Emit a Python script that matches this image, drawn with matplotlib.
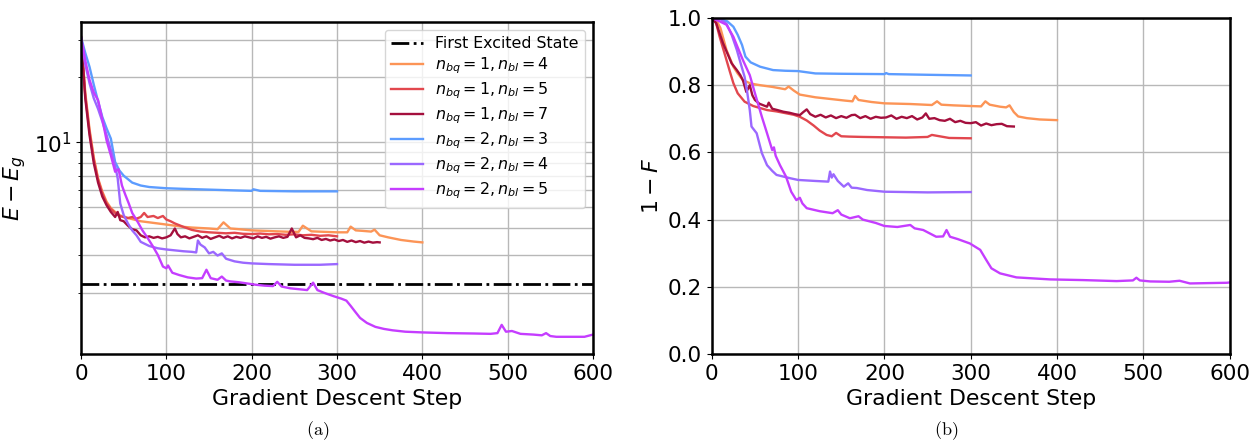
import numpy as np
import matplotlib
matplotlib.use('Agg')
import matplotlib.pyplot as plt

# ---- data ---------------------------------------------------------------
labels = [r'$n_{bq}=1, n_{bl}=4$', r'$n_{bq}=1, n_{bl}=5$', r'$n_{bq}=1, n_{bl}=7$',
          r'$n_{bq}=2, n_{bl}=3$', r'$n_{bq}=2, n_{bl}=4$', r'$n_{bq}=2, n_{bl}=5$']
colors = ['#fc9456', '#e2474e', '#a40f3d', '#5c9cff', '#9b68ff', '#c53dff']

excited_energy = 2.19

# (a) E - E_g
e_steps_14 = [0, 5, 10, 15, 20, 25, 30, 35, 40, 45, 50, 60, 70, 80, 90, 100, 110, 120, 130, 140,
              150, 160, 167, 175, 185, 200, 215, 230, 245, 255, 260, 270, 285, 300, 312, 316, 322, 330, 340, 344,
              350, 360, 375, 390, 400]
e_vals_14 = [30.8, 17.0, 11.5, 8.5, 6.8, 5.9, 5.3, 4.95, 4.75, 4.6, 4.5, 4.4, 4.3, 4.25, 4.2, 4.15, 4.1, 4.05, 4.02, 4.0,
             3.98, 3.95, 4.25, 3.98, 3.95, 3.9, 3.88, 3.86, 3.84, 3.84, 4.1, 3.86, 3.84, 3.82, 3.82, 4.06, 3.9, 3.88, 3.85, 3.93,
             3.7, 3.62, 3.52, 3.46, 3.43]

e_steps_15 = [0, 5, 10, 15, 20, 25, 30, 35, 40, 45, 50, 55, 60, 65, 70, 74, 78, 85, 90, 96,
              100, 105, 110, 120, 130, 140, 150, 160, 170, 180, 190, 200, 210, 220, 230, 240, 250, 260, 270, 280,
              290, 300]
e_vals_15 = [30.8, 16.5, 11.2, 8.3, 6.7, 5.8, 5.2, 4.9, 4.7, 4.55, 4.5, 4.45, 4.5, 4.42, 4.5, 4.7, 4.5, 4.55, 4.45, 4.55,
             4.38, 4.3, 4.2, 4.05, 3.92, 3.85, 3.82, 3.8, 3.78, 3.8, 3.76, 3.75, 3.77, 3.74, 3.75, 3.72, 3.74, 3.7, 3.72, 3.68,
             3.7, 3.66]

e_steps_17 = [0, 5, 10, 15, 20, 25, 30, 35, 40, 43, 46, 50, 55, 60, 65, 70, 75, 80, 85, 90,
              95, 100, 105, 110, 113, 117, 122, 127, 132, 137, 142, 147, 152, 157, 162, 167, 172, 177, 182, 187,
              192, 197, 202, 207, 212, 217, 222, 227, 232, 237, 242, 247, 252, 257, 262, 267, 272, 277, 282, 287,
              292, 297, 302, 307, 312, 317, 322, 327, 332, 337, 342, 347, 350]
e_vals_17 = [30.8, 16.0, 10.8, 8.0, 6.5, 5.6, 5.1, 4.75, 4.5, 4.75, 4.35, 4.3, 4.1, 3.95, 3.9, 3.7, 3.62, 3.66, 3.6, 3.64,
             3.58, 3.62, 3.7, 3.98, 3.75, 3.62, 3.66, 3.58, 3.64, 3.7, 3.6, 3.66, 3.56, 3.62, 3.68, 3.6, 3.66, 3.58, 3.64, 3.6,
             3.66, 3.62, 3.58, 3.66, 3.6, 3.64, 3.57, 3.62, 3.66, 3.6, 3.64, 3.98, 3.62, 3.7, 3.6, 3.58, 3.55, 3.6, 3.52, 3.56,
             3.5, 3.54, 3.48, 3.52, 3.45, 3.5, 3.44, 3.48, 3.42, 3.46, 3.42, 3.44, 3.43]

e_steps_23 = [0, 5, 10, 15, 20, 25, 30, 35, 40, 45, 50, 60, 70, 80, 100, 120, 150, 180, 200, 202,
              210, 250, 300]
e_vals_23 = [30.8, 26, 22.4, 18.5, 15.5, 13.1, 11.6, 10.4, 8.1, 7.4, 7.0, 6.5, 6.3, 6.2, 6.12, 6.08, 6.03, 5.98, 5.95, 6.05,
             5.95, 5.92, 5.92]

e_steps_24 = [0, 5, 10, 15, 20, 25, 30, 35, 40, 43, 46, 50, 55, 60, 65, 70, 80, 90, 100, 110,
              120, 130, 135, 137, 140, 145, 150, 155, 160, 165, 170, 180, 190, 200, 220, 250, 280, 300]
e_vals_24 = [30.8, 23, 18.8, 16, 14.3, 12.5, 10.8, 9.2, 7.8, 6.8, 5.2, 4.6, 4.2, 3.9, 3.7, 3.45, 3.3, 3.22, 3.18, 3.15,
             3.12, 3.1, 3.08, 3.5, 3.35, 3.25, 3.05, 3.1, 2.98, 3.05, 2.88, 2.8, 2.76, 2.74, 2.72, 2.7, 2.7, 2.72]

e_steps_25 = [0, 5, 10, 15, 20, 25, 30, 35, 40, 44, 48, 52, 56, 60, 66, 72, 78, 84, 90, 96,
              100, 102, 107, 115, 125, 135, 142, 147, 152, 160, 165, 170, 175, 185, 195, 205, 215, 225, 230, 235,
              245, 255, 265, 272, 277, 285, 296, 305, 311, 316, 321, 327, 335, 345, 355, 365, 380, 400, 430, 460,
              480, 488, 493, 498, 505, 515, 530, 540, 545, 550, 557, 570, 590, 600]
e_vals_25 = [30.8, 24, 19.5, 17, 15.7, 12.8, 10.2, 8.7, 7.3, 7.5, 6.3, 5.7, 5.2, 4.7, 4.3, 3.9, 3.6, 3.3, 3.0, 2.65,
             2.6, 2.68, 2.48, 2.42, 2.36, 2.33, 2.34, 2.56, 2.34, 2.3, 2.38, 2.28, 2.26, 2.24, 2.21, 2.18, 2.16, 2.15, 2.25, 2.14,
             2.1, 2.08, 2.06, 2.23, 2.06, 2.0, 1.93, 1.88, 1.84, 1.74, 1.64, 1.53, 1.45, 1.39, 1.36, 1.34, 1.32, 1.31, 1.30, 1.295,
             1.29, 1.3, 1.42, 1.32, 1.33, 1.29, 1.28, 1.27, 1.3, 1.26, 1.25, 1.25, 1.25, 1.28]

# (b) 1 - F
f_steps_14 = [0, 5, 10, 17, 25, 30, 36, 45, 56, 70, 85, 89, 95, 102, 120, 141, 155, 163, 166, 170,
              185, 200, 230, 255, 261, 266, 280, 300, 312, 317, 322, 334, 341, 345, 350, 355, 365, 380, 400]
f_vals_14 = [1.0, 0.995, 0.97, 0.905, 0.855, 0.835, 0.815, 0.805, 0.80, 0.795, 0.788, 0.796, 0.784, 0.772, 0.764, 0.758, 0.754, 0.752, 0.768, 0.756,
             0.750, 0.746, 0.744, 0.741, 0.752, 0.742, 0.740, 0.738, 0.737, 0.752, 0.742, 0.736, 0.734, 0.74, 0.72, 0.707, 0.702, 0.698, 0.696]

f_steps_15 = [0, 5, 9, 13, 17, 21, 25, 30, 38, 48, 64, 75, 83, 95, 102, 110, 118, 125, 133, 139,
              144, 150, 159, 175, 200, 225, 250, 255, 275, 300]
f_vals_15 = [1.0, 0.985, 0.945, 0.91, 0.875, 0.84, 0.806, 0.776, 0.751, 0.738, 0.726, 0.722, 0.718, 0.712, 0.706, 0.695, 0.68, 0.665, 0.652, 0.648,
             0.658, 0.648, 0.647, 0.646, 0.645, 0.644, 0.646, 0.652, 0.643, 0.642]

f_steps_17 = [0, 5, 9, 13, 18, 23, 29, 33, 36, 40, 44, 47, 50, 55, 60, 64, 66, 70, 76, 83,
              90, 96, 102, 106, 110, 114, 120, 126, 132, 138, 144, 150, 156, 162, 166, 172, 178, 184, 190, 196,
              202, 208, 214, 220, 226, 232, 238, 244, 248, 252, 258, 264, 270, 276, 282, 288, 294, 300, 306, 312,
              318, 324, 330, 336, 342, 350]
f_vals_17 = [1.0, 0.985, 0.955, 0.925, 0.895, 0.865, 0.845, 0.83, 0.815, 0.78, 0.80, 0.77, 0.756, 0.745, 0.74, 0.736, 0.748, 0.73, 0.726, 0.721,
             0.718, 0.714, 0.711, 0.72, 0.728, 0.714, 0.706, 0.712, 0.704, 0.71, 0.702, 0.708, 0.703, 0.711, 0.712, 0.702, 0.708, 0.7, 0.706, 0.703,
             0.704, 0.71, 0.7, 0.706, 0.702, 0.708, 0.698, 0.704, 0.716, 0.7, 0.702, 0.696, 0.694, 0.7, 0.69, 0.694, 0.688, 0.687, 0.69, 0.68,
             0.686, 0.681, 0.684, 0.685, 0.678, 0.677]

f_steps_23 = [0, 10, 18, 25, 30, 35, 39, 45, 56, 71, 85, 100, 120, 150, 200, 202, 205, 250, 300]
f_vals_23 = [1.0, 0.997, 0.99, 0.974, 0.95, 0.92, 0.885, 0.868, 0.855, 0.845, 0.843, 0.842, 0.835, 0.834, 0.833, 0.836, 0.833, 0.831, 0.829]

f_steps_24 = [0, 10, 17, 23, 29, 34, 38, 41, 44, 46, 52, 58, 64, 70, 75, 91, 100, 120, 135, 137,
              139, 141, 146, 153, 158, 162, 168, 180, 200, 250, 300]
f_vals_24 = [1.0, 0.997, 0.983, 0.95, 0.905, 0.86, 0.825, 0.78, 0.726, 0.677, 0.657, 0.598, 0.562, 0.545, 0.533, 0.523, 0.518, 0.515, 0.513, 0.543,
             0.525, 0.535, 0.515, 0.498, 0.508, 0.495, 0.494, 0.488, 0.483, 0.481, 0.482]

f_steps_25 = [0, 9, 17, 25, 36, 44, 50, 58, 64, 70, 72, 74, 79, 86, 92, 98, 102, 105, 110, 125,
              140, 146, 150, 160, 170, 175, 190, 200, 215, 230, 235, 245, 260, 268, 272, 276, 285, 299, 311, 318,
              324, 334, 353, 392, 430, 469, 488, 492, 496, 508, 530, 542, 554, 575, 597, 600]
f_vals_25 = [1.0, 0.99, 0.98, 0.944, 0.875, 0.83, 0.776, 0.706, 0.657, 0.607, 0.615, 0.59, 0.562, 0.528, 0.483, 0.458, 0.465, 0.448, 0.434, 0.425,
             0.419, 0.428, 0.415, 0.404, 0.41, 0.4, 0.39, 0.381, 0.378, 0.384, 0.374, 0.369, 0.349, 0.35, 0.369, 0.349, 0.342, 0.329, 0.31, 0.28,
             0.255, 0.24, 0.228, 0.222, 0.22, 0.217, 0.219, 0.227, 0.219, 0.216, 0.215, 0.218, 0.21, 0.211, 0.212, 0.213]

e_series = [(e_steps_14, e_vals_14), (e_steps_15, e_vals_15), (e_steps_17, e_vals_17),
            (e_steps_23, e_vals_23), (e_steps_24, e_vals_24), (e_steps_25, e_vals_25)]
f_series = [(f_steps_14, f_vals_14), (f_steps_15, f_vals_15), (f_steps_17, f_vals_17),
            (f_steps_23, f_vals_23), (f_steps_24, f_vals_24), (f_steps_25, f_vals_25)]

# ---- figure --------------------------------------------------------------
W, H = 1256, 442
fig = plt.figure(figsize=(W / 100, H / 100), dpi=100)
axA = fig.add_axes([81 / W, 1 - 354 / H, (593 - 81) / W, (354 - 22) / H])
axB = fig.add_axes([711.8 / W, 1 - 354 / H, (1229.6 - 711.8) / W, (354 - 18) / H])

axA.axhline(excited_energy, color='k', ls='-.', lw=2, label='First Excited State')
for (s, v), c, lab in zip(e_series, colors, labels):
    axA.plot(s, v, color=c, lw=1.7, label=lab)
axA.set_yscale('log')
axA.set_ylim(1.04, 36.2)
axA.set_xlim(0, 600)
axA.set_xticks(np.arange(0, 601, 100))
axA.grid(True, which='both', color='#b8b8b8', lw=1.0)
axA.set_xlabel('Gradient Descent Step', fontsize=15.8)
axA.set_ylabel(r'$E - E_g$', fontsize=15.8)
axA.legend(loc='upper right', fontsize=11.4, labelspacing=0.28)

for (s, v), c in zip(f_series, colors):
    axB.plot(s, v, color=c, lw=1.7)
axB.set_xlim(0, 600)
axB.set_ylim(0, 1)
axB.set_xticks(np.arange(0, 601, 100))
axB.set_yticks(np.arange(0, 1.01, 0.2))
axB.grid(True, color='#b8b8b8', lw=1.0)
axB.set_xlabel('Gradient Descent Step', fontsize=15.8)
axB.set_ylabel(r'$1 - F$', fontsize=15.8)

for ax in (axA, axB):
    ax.tick_params(labelsize=15.5)
    ax.set_axisbelow(True)
    for sp in ax.spines.values():
        sp.set_linewidth(1.8)
        sp.set_color('k')

fig.text(318 / W, 1 - 431 / H, r'$\mathrm{(a)}$', math_fontfamily='cm', fontsize=13,
         ha='center', va='center')
fig.text(946 / W, 1 - 431 / H, r'$\mathrm{(b)}$', math_fontfamily='cm', fontsize=13,
         ha='center', va='center')

fig.savefig('out.png', dpi=100)
